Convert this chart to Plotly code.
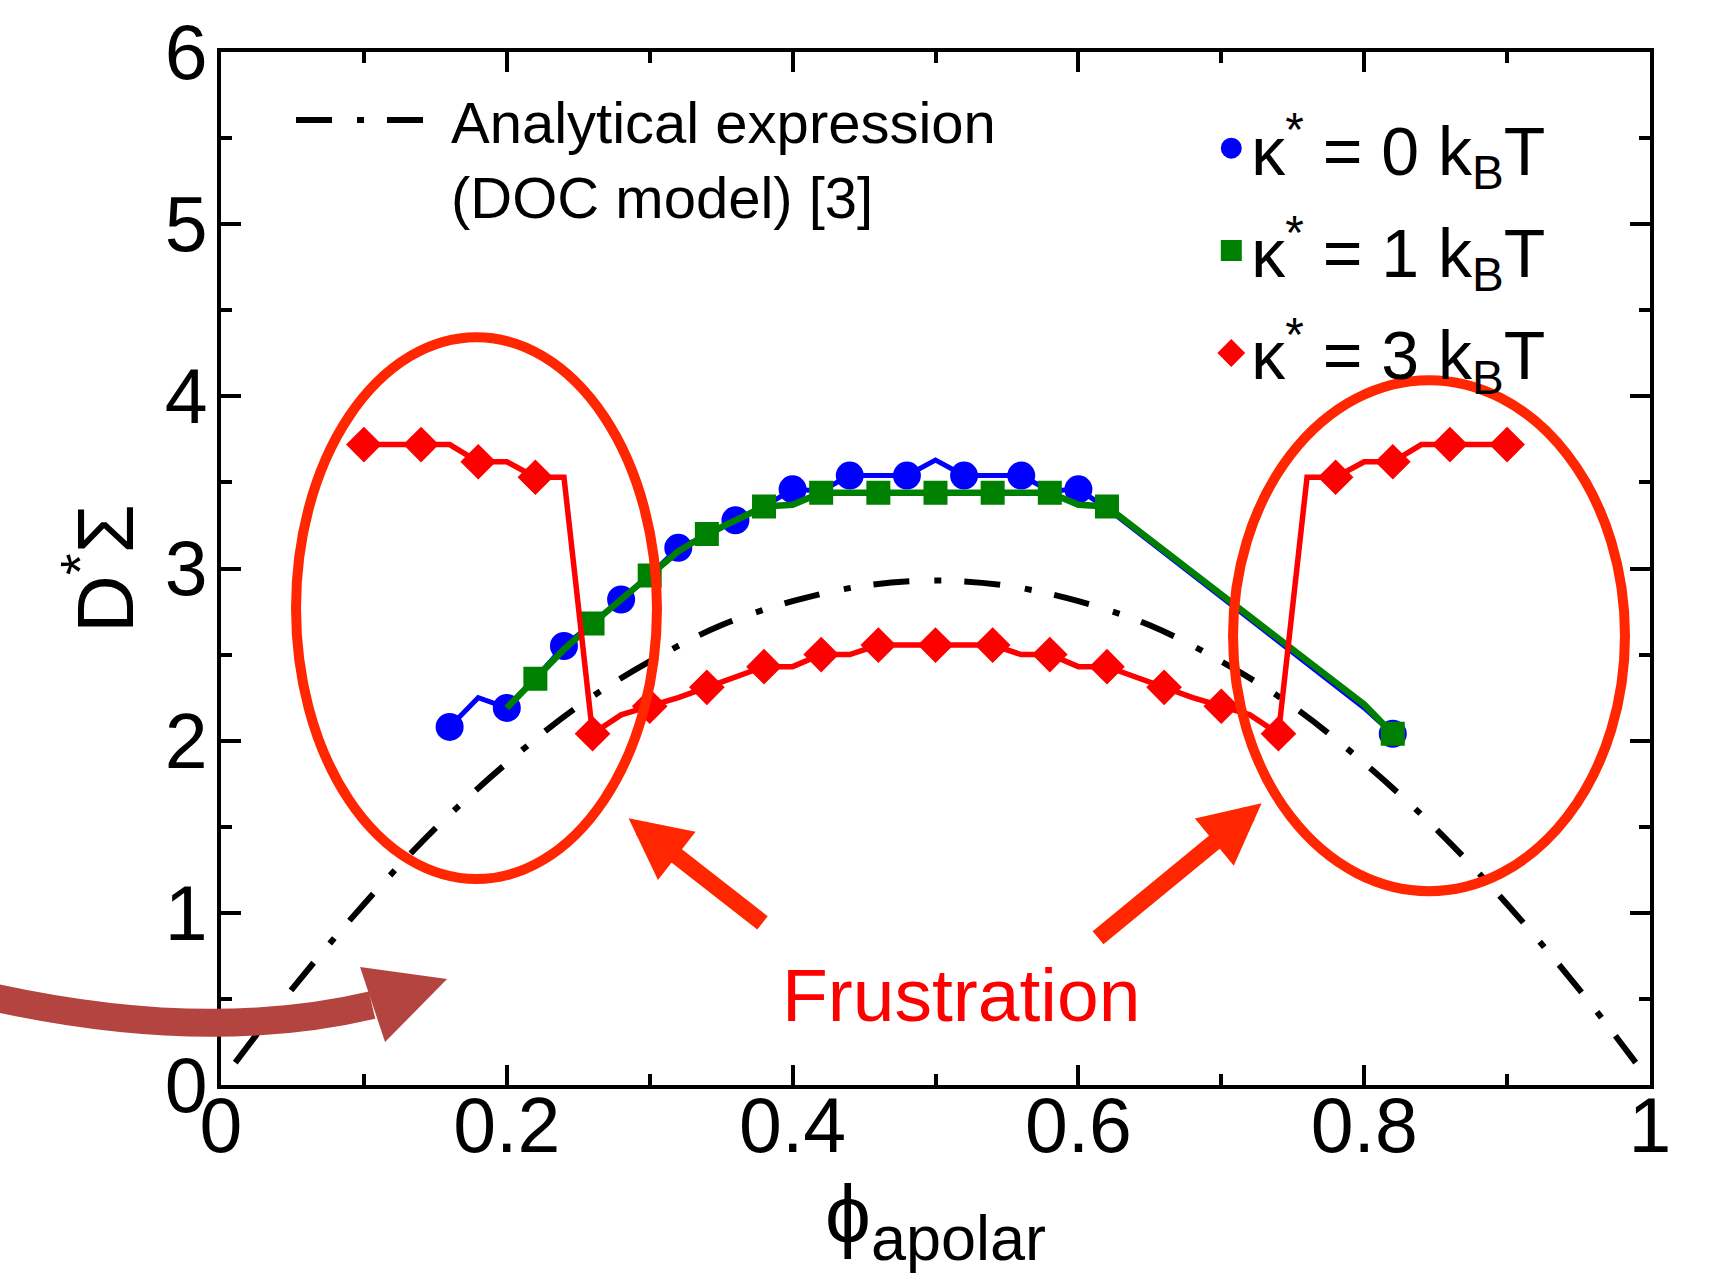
import plotly.graph_objects as go

# ---------------- data ----------------
# Analytical expression (DOC model) [3]  (dash-dot curve)
phi_doc = [0.01, 0.05, 0.10, 0.15, 0.20, 0.25, 0.30, 0.35, 0.40, 0.45, 0.50,
           0.55, 0.60, 0.65, 0.70, 0.75, 0.80, 0.85, 0.90, 0.95, 0.99]
ds_doc = [0.13, 0.56, 1.05, 1.49, 1.87, 2.20, 2.46, 2.67, 2.81, 2.90, 2.93,
          2.90, 2.81, 2.67, 2.46, 2.20, 1.87, 1.49, 1.05, 0.56, 0.13]

# kappa* = 0 kBT (blue)
phi_k0 = [0.16, 0.18, 0.20, 0.22, 0.24, 0.26, 0.28, 0.30, 0.32, 0.34, 0.36, 0.38,
          0.40, 0.42, 0.44, 0.46, 0.48, 0.50, 0.52, 0.54, 0.56, 0.58, 0.60, 0.62,
          0.80, 0.82]
ds_k0 = [2.08, 2.25, 2.19, 2.36, 2.55, 2.68, 2.82, 2.96, 3.12, 3.19, 3.28, 3.36,
         3.46, 3.45, 3.54, 3.54, 3.54, 3.63, 3.54, 3.54, 3.54, 3.45, 3.46, 3.35,
         2.19, 2.04]
mk_k0 = [0.16, 0.20, 0.24, 0.28, 0.32, 0.36, 0.40, 0.44, 0.48, 0.52, 0.56, 0.60, 0.82]

# kappa* = 1 kBT (green)
phi_k1 = [0.20, 0.22, 0.24, 0.26, 0.28, 0.30, 0.32, 0.34, 0.36, 0.38, 0.40, 0.42,
          0.44, 0.46, 0.48, 0.50, 0.52, 0.54, 0.56, 0.58, 0.60, 0.62, 0.80, 0.82]
ds_k1 = [2.19, 2.36, 2.53, 2.68, 2.82, 2.96, 3.10, 3.20, 3.28, 3.36, 3.37, 3.44,
         3.44, 3.44, 3.44, 3.44, 3.44, 3.44, 3.44, 3.44, 3.37, 3.36, 2.21, 2.04]
mk_k1 = [0.22, 0.26, 0.30, 0.34, 0.38, 0.42, 0.46, 0.50, 0.54, 0.58, 0.62, 0.82]

# kappa* = 3 kBT (red)
phi_k3 = [0.10, 0.12, 0.14, 0.16, 0.18, 0.20, 0.22, 0.24, 0.26, 0.28, 0.30, 0.32,
          0.34, 0.36, 0.38, 0.40, 0.42, 0.44, 0.46, 0.48, 0.50, 0.52, 0.54, 0.56,
          0.58, 0.60, 0.62, 0.64, 0.66, 0.68, 0.70, 0.72, 0.74, 0.76, 0.78, 0.80,
          0.82, 0.84, 0.86, 0.88, 0.90]
ds_k3 = [3.72, 3.72, 3.72, 3.72, 3.62, 3.62, 3.53, 3.53, 2.04, 2.15, 2.20, 2.25,
         2.31, 2.37, 2.43, 2.43, 2.50, 2.50, 2.555, 2.555, 2.555, 2.555, 2.555, 2.50,
         2.50, 2.43, 2.43, 2.37, 2.31, 2.25, 2.20, 2.15, 2.04, 3.53, 3.53, 3.62,
         3.62, 3.72, 3.72, 3.72, 3.72]
mk_k3 = [0.10, 0.14, 0.18, 0.22, 0.26, 0.30, 0.34, 0.38, 0.42, 0.46, 0.50, 0.54,
         0.58, 0.62, 0.66, 0.70, 0.74, 0.78, 0.82, 0.86, 0.90]

x_tickvals = [0, 0.2, 0.4, 0.6, 0.8, 1]
x_ticktext = ["0", "0.2", "0.4", "0.6", "0.8", "1"]
y_tickvals = [0, 1, 2, 3, 4, 5, 6]
y_ticktext = ["0", "1", "2", "3", "4", "5", "6"]

names = ["κ<sup>*</sup> = 0 k<sub>B</sub>T",
         "κ<sup>*</sup> = 1 k<sub>B</sub>T",
         "κ<sup>*</sup> = 3 k<sub>B</sub>T"]
doc_name = "Analytical expression<br>(DOC model) [3]"
frustration_text = "Frustration"
x_title = 'ϕ<sub><span style="font-size:63px">apolar</span></sub>'
y_title = "D<sup>*</sup>Σ"

FONT = "Liberation Sans, Arial, Helvetica, sans-serif"
BLUE, GREEN, RED = "#0000FF", "#008000", "#FF0000"
ORANGE = "#FF2600"
BROWN = "rgb(180,68,63)"


def pick(phi, ds, marks):
    lut = {round(p, 3): v for p, v in zip(phi, ds)}
    return marks, [lut[round(m, 3)] for m in marks]


fig = go.Figure()

fig.add_trace(go.Scatter(
    x=phi_doc, y=ds_doc, mode="lines", name=doc_name, legend="legend",
    line=dict(color="black", width=6, dash="36px,25px,7px,23px", shape="spline"),
))

series = [
    (phi_k0, ds_k0, mk_k0, BLUE, 5, "circle", 23, names[0]),
    (phi_k1, ds_k1, mk_k1, GREEN, 6.5, "square", 19, names[1]),
    (phi_k3, ds_k3, mk_k3, RED, 5.5, "diamond", 22, names[2]),
]
for i, (px, py, mk, col, lw, sym, ms, nm) in enumerate(series):
    fig.add_trace(go.Scatter(
        x=px, y=py, mode="lines", line=dict(color=col, width=lw),
        showlegend=False, legendgroup=f"g{i}", legend="legend2", hoverinfo="skip",
    ))
    mx, my = pick(px, py, mk)
    fig.add_trace(go.Scatter(
        x=mx, y=my, mode="markers", name=nm, legendgroup=f"g{i}", legend="legend2",
        marker=dict(color=col, symbol=sym, size=ms, line=dict(width=5, color=col)),
    ))

# ---------------- annotations: ellipses, arrows, text ----------------
shapes = [
    dict(type="circle", xref="x", yref="y", x0=0.0525, x1=0.3051, y0=1.196, y1=4.343,
         line=dict(color=ORANGE, width=10), layer="above"),
    dict(type="circle", xref="x", yref="y", x0=0.7082, x1=0.9825, y0=1.126, y1=4.094,
         line=dict(color=ORANGE, width=10), layer="above"),
    # curved brown arrow coming from the left (body)
    dict(type="path", xref="paper", yref="paper",
         path="M -0.19,0.0950 Q -0.0217,0.0358 0.1057,0.0774",
         line=dict(color=BROWN, width=28), layer="above"),
    # its head
    dict(type="path", xref="paper", yref="paper",
         path="M 0.0973,0.1142 L 0.1582,0.1026 L 0.1148,0.0416 Z",
         line=dict(color=BROWN, width=0), fillcolor=BROWN, layer="above"),
]

annotations = [
    dict(x=0.5177, y=0.52, xref="x", yref="y", text=frustration_text, showarrow=False,
         font=dict(family=FONT, size=75, color=RED), xanchor="center", yanchor="middle"),
    dict(x=0.2852, y=1.549, ax=0.380, ay=0.935, xref="x", yref="y", axref="x", ayref="y",
         text="", showarrow=True, arrowhead=2, arrowsize=0.72, arrowwidth=17,
         arrowcolor=ORANGE, standoff=0, startstandoff=0),
    dict(x=0.7282, y=1.636, ax=0.6127, ay=0.848, xref="x", yref="y", axref="x", ayref="y",
         text="", showarrow=True, arrowhead=2, arrowsize=0.72, arrowwidth=17,
         arrowcolor=ORANGE, standoff=0, startstandoff=0),
]

axis_common = dict(
    showgrid=False, zeroline=False, showline=True, linecolor="black", linewidth=4,
    mirror="ticks", ticks="inside", ticklen=20, tickwidth=3.5, tickcolor="black",
    tickfont=dict(family=FONT, size=77, color="black"), automargin=False,
)

fig.update_layout(
    width=1729, height=1276,
    margin=dict(l=221, r=79, t=52, b=191),
    paper_bgcolor="white", plot_bgcolor="white",
    font=dict(family=FONT, color="black"),
    shapes=shapes, annotations=annotations,
    xaxis=dict(range=[0, 1], tickvals=x_tickvals, ticktext=x_ticktext,
               ticklabelstandoff=-29,
               minor=dict(dtick=0.1, ticks="inside", ticklen=11, tickwidth=3.5, tickcolor="black"),
               title=dict(text=x_title, font=dict(family=FONT, size=82), standoff=8),
               **axis_common),
    yaxis=dict(range=[0, 6], tickvals=y_tickvals, ticktext=y_ticktext,
               ticklabelstandoff=-6,
               minor=dict(dtick=0.5, ticks="inside", ticklen=11, tickwidth=3.5, tickcolor="black"),
               title=dict(text=y_title, font=dict(family=FONT, size=80), standoff=6),
               **axis_common),
    legend=dict(x=0.049, y=0.977, xanchor="left", yanchor="top", valign="top",
                itemwidth=150,
                font=dict(family=FONT, size=58, color="black"), bgcolor="rgba(0,0,0,0)",
                borderwidth=0),
    legend2=dict(x=0.693, y=0.956, xanchor="left", yanchor="top",
                 traceorder="grouped", tracegroupgap=11,
                 font=dict(family=FONT, size=68, color="black"), bgcolor="rgba(0,0,0,0)",
                 borderwidth=0),
    showlegend=True,
)

fig.write_html("out.html", config={"displayModeBar": False},
               post_script="document.body.style.margin='0';")
